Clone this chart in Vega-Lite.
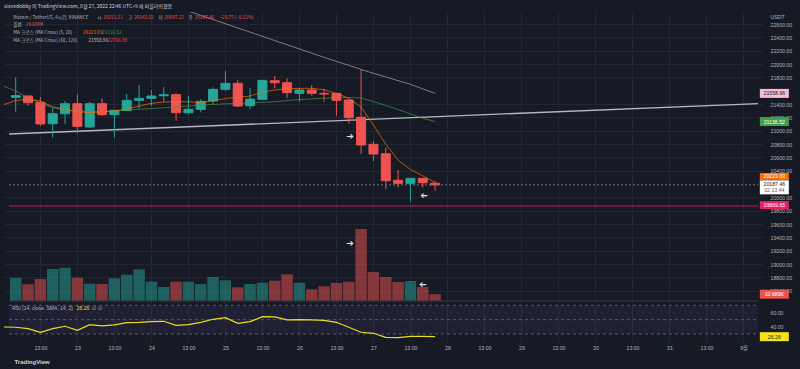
{
  "$schema": "https://vega.github.io/schema/vega-lite/v6.json",
  "width": 759,
  "height": 330,
  "autosize": {"type": "none"},
  "padding": {"left": 4, "top": 12, "right": 37, "bottom": 27},
  "background": "#161a25",
  "config": {"view": {"stroke": null}, "font": "Liberation Sans"},
  "title": {
    "text": "slavedobby 이 TradingView.com, 8월 27, 2022 22:46 UTC+9 에 퍼블리쉬했음",
    "anchor": "start",
    "frame": "group",
    "orient": "top",
    "offset": 3,
    "font": "Noto Sans CJK KR",
    "fontSize": 5,
    "fontWeight": "normal",
    "color": "#d1d4dc"
  },
  "datasets": {
    "k": [
      {"i": 0, "o": 21500, "h": 21800, "l": 21284, "c": 21525, "v": 38.25},
      {"i": 1, "o": 21520, "h": 21530, "l": 21374, "c": 21419, "v": 27.5},
      {"i": 2, "o": 21425, "h": 21504, "l": 21070, "c": 21100, "v": 36.6},
      {"i": 3, "o": 21104, "h": 21335, "l": 20894, "c": 21254, "v": 53.6},
      {"i": 4, "o": 21254, "h": 21445, "l": 21095, "c": 21404, "v": 55.8},
      {"i": 5, "o": 21404, "h": 21550, "l": 20960, "c": 21065, "v": 38.8},
      {"i": 6, "o": 21055, "h": 21430, "l": 21040, "c": 21404, "v": 28.6},
      {"i": 7, "o": 21404, "h": 21479, "l": 21220, "c": 21239, "v": 28.1},
      {"i": 8, "o": 21239, "h": 21305, "l": 20894, "c": 21305, "v": 37.7},
      {"i": 9, "o": 21305, "h": 21550, "l": 21290, "c": 21455, "v": 43.9},
      {"i": 10, "o": 21455, "h": 21685, "l": 21335, "c": 21485, "v": 53.0},
      {"i": 11, "o": 21485, "h": 21610, "l": 21370, "c": 21520, "v": 32.0},
      {"i": 12, "o": 21524, "h": 21655, "l": 21434, "c": 21539, "v": 23.0},
      {"i": 13, "o": 21539, "h": 21560, "l": 21149, "c": 21269, "v": 32.0},
      {"i": 14, "o": 21269, "h": 21520, "l": 21245, "c": 21320, "v": 32.0},
      {"i": 15, "o": 21320, "h": 21470, "l": 21275, "c": 21440, "v": 28.1},
      {"i": 16, "o": 21445, "h": 21650, "l": 21395, "c": 21620, "v": 40.0},
      {"i": 17, "o": 21620, "h": 21895, "l": 21599, "c": 21710, "v": 34.3},
      {"i": 18, "o": 21710, "h": 21760, "l": 21355, "c": 21370, "v": 22.4},
      {"i": 19, "o": 21374, "h": 21644, "l": 21320, "c": 21474, "v": 28.1},
      {"i": 20, "o": 21470, "h": 21760, "l": 21460, "c": 21755, "v": 30.3},
      {"i": 21, "o": 21749, "h": 21820, "l": 21635, "c": 21719, "v": 33.7},
      {"i": 22, "o": 21719, "h": 21785, "l": 21494, "c": 21569, "v": 44.5},
      {"i": 23, "o": 21560, "h": 21640, "l": 21434, "c": 21610, "v": 30.3},
      {"i": 24, "o": 21610, "h": 21685, "l": 21524, "c": 21560, "v": 19.0},
      {"i": 25, "o": 21560, "h": 21625, "l": 21434, "c": 21550, "v": 24.1},
      {"i": 26, "o": 21560, "h": 21565, "l": 21225, "c": 21455, "v": 29.8},
      {"i": 27, "o": 21460, "h": 21465, "l": 21110, "c": 21194, "v": 32.0},
      {"i": 28, "o": 21200, "h": 21910, "l": 20650, "c": 20785, "v": 121.6},
      {"i": 29, "o": 20795, "h": 20845, "l": 20545, "c": 20650, "v": 48.5},
      {"i": 30, "o": 20654, "h": 20750, "l": 20125, "c": 20249, "v": 40.0},
      {"i": 31, "o": 20255, "h": 20410, "l": 20150, "c": 20210, "v": 31.5},
      {"i": 32, "o": 20210, "h": 20290, "l": 19934, "c": 20285, "v": 33.2},
      {"i": 33, "o": 20285, "h": 20290, "l": 20150, "c": 20219, "v": 23.0},
      {"i": 34, "o": 20211.21, "h": 20242.02, "l": 20097.22, "c": 20187.46, "v": 10.689}
    ],
    "ind": [
      {"i": -1, "ma5": 21387.5, "ma20": 21669.5, "ma60": null, "rsi": 39.8},
      {"i": 0, "ma5": 21452, "ma20": 21594.5, "ma60": null, "rsi": 39.4},
      {"i": 1, "ma5": 21474.5, "ma20": 21489.5, "ma60": null, "rsi": 37.5},
      {"i": 2, "ma5": 21444.5, "ma20": 21414.5, "ma60": null, "rsi": 32.4},
      {"i": 3, "ma5": 21357.5, "ma20": 21347, "ma60": null, "rsi": 37.5},
      {"i": 4, "ma5": 21320, "ma20": 21309.5, "ma60": null, "rsi": 40.8},
      {"i": 5, "ma5": 21284, "ma20": 21294.5, "ma60": null, "rsi": 35.2},
      {"i": 6, "ma5": 21270.5, "ma20": 21284, "ma60": null, "rsi": 43.1},
      {"i": 7, "ma5": 21282.5, "ma20": 21287, "ma60": null, "rsi": 41.2},
      {"i": 8, "ma5": 21293, "ma20": 21297.5, "ma60": null, "rsi": 42.6},
      {"i": 9, "ma5": 21324.5, "ma20": 21305, "ma60": null, "rsi": 45.8},
      {"i": 10, "ma5": 21369.5, "ma20": 21321.5, "ma60": null, "rsi": 46.3},
      {"i": 11, "ma5": 21410, "ma20": 21332, "ma60": 22975, "rsi": 47.2},
      {"i": 12, "ma5": 21429.5, "ma20": 21344, "ma60": 22914, "rsi": 47.7},
      {"i": 13, "ma5": 21434, "ma20": 21354.5, "ma60": 22854, "rsi": 42.1},
      {"i": 14, "ma5": 21432.5, "ma20": 21369.5, "ma60": 22794, "rsi": 43.1},
      {"i": 15, "ma5": 21420.5, "ma20": 21381.5, "ma60": 22730, "rsi": 46.3},
      {"i": 16, "ma5": 21450.5, "ma20": 21393.5, "ma60": 22667, "rsi": 50.5},
      {"i": 17, "ma5": 21482, "ma20": 21402.5, "ma60": 22604, "rsi": 52.8},
      {"i": 18, "ma5": 21500, "ma20": 21408.5, "ma60": 22541, "rsi": 44.9},
      {"i": 19, "ma5": 21519.5, "ma20": 21416, "ma60": 22478, "rsi": 47.2},
      {"i": 20, "ma5": 21579.5, "ma20": 21425, "ma60": 22415, "rsi": 54.2},
      {"i": 21, "ma5": 21609.5, "ma20": 21434, "ma60": 22352, "rsi": 53.8},
      {"i": 22, "ma5": 21627.5, "ma20": 21452, "ma60": 22289, "rsi": 49.6},
      {"i": 23, "ma5": 21635, "ma20": 21467, "ma60": 22226, "rsi": 50.0},
      {"i": 24, "ma5": 21635, "ma20": 21476, "ma60": 22163, "rsi": 49.6},
      {"i": 25, "ma5": 21614, "ma20": 21486.5, "ma60": 22100, "rsi": 49.1},
      {"i": 26, "ma5": 21557, "ma20": 21494, "ma60": 22040, "rsi": 46.3},
      {"i": 27, "ma5": 21486.5, "ma20": 21497, "ma60": 21980, "rsi": 39.4},
      {"i": 28, "ma5": 21354.5, "ma20": 21489.5, "ma60": 21918, "rsi": 32.4},
      {"i": 29, "ma5": 21084.5, "ma20": 21437, "ma60": 21861, "rsi": 31.0},
      {"i": 30, "ma5": 20799.5, "ma20": 21377, "ma60": 21806, "rsi": 25.4},
      {"i": 31, "ma5": 20559.5, "ma20": 21317, "ma60": 21750, "rsi": 24.9},
      {"i": 32, "ma5": 20417, "ma20": 21249.5, "ma60": 21695, "rsi": 26.8},
      {"i": 33, "ma5": 20322.5, "ma20": 21186.5, "ma60": 21627, "rsi": 26.8},
      {"i": 34, "ma5": 20223.03, "ma20": 21136.52, "ma60": 21558.96, "rsi": 26.26}
    ]
  },
  "layer": [
    {
      "data": {"name": "ind"},
      "layer": [
        {
          "data": {"values": [{}]},
          "mark": {"type": "rect", "color": "#7e57c2", "opacity": 0.1},
          "encoding": {
            "x": {"datum": -0.544, "type": "quantitative"},
            "x2": {"datum": 60.176},
            "y": {"datum": 30, "type": "quantitative"},
            "y2": {"datum": 70}
          }
        },
        {
          "data": {"values": [{}]},
          "mark": {"type": "rule", "color": "#2a2e39", "strokeWidth": 1.5},
          "encoding": {
            "x": {"datum": -0.544, "type": "quantitative"},
            "x2": {"datum": 60.176},
            "y": {"datum": 76, "type": "quantitative"}
          }
        },
        {
          "data": {"values": [{"lv": 70}, {"lv": 50}, {"lv": 30}]},
          "mark": {"type": "rule", "color": "#787b86", "strokeWidth": 0.8, "strokeDash": [3, 3], "opacity": 0.8},
          "encoding": {
            "x": {"datum": -0.544, "type": "quantitative"},
            "x2": {"datum": 60.176},
            "y": {"field": "lv", "type": "quantitative"}
          }
        },
        {
          "mark": {"type": "line", "color": "#f0dc1e", "strokeWidth": 1.2, "clip": true},
          "encoding": {
            "x": {"field": "i", "type": "quantitative"},
            "y": {
              "field": "rsi",
              "type": "quantitative",
              "scale": {"domain": [18.85, 478.8], "nice": false, "zero": false},
              "axis": {
                "orient": "right",
                "values": [40, 60],
                "tickCount": 50,
                "format": ".2f",
                "labelColor": "#b2b5be",
                "labelFontSize": 5.2,
                "labelAlign": "left",
                "labelPadding": 7,
                "labelOverlap": false,
                "ticks": false,
                "tickSize": 0,
                "domain": false,
                "grid": false,
                "title": null
              }
            }
          }
        },
        {
          "data": {"values": [{}]},
          "mark": {"type": "tick", "orient": "horizontal", "size": 29, "thickness": 9, "color": "#f5e11b", "opacity": 1},
          "encoding": {
            "x": {"datum": 61.5, "type": "quantitative"},
            "y": {"datum": 26.26, "type": "quantitative"}
          }
        },
        {
          "data": {"values": [{}]},
          "mark": {"type": "text", "text": "26.26", "fontSize": 5.2, "color": "#131722", "align": "center", "baseline": "middle"},
          "encoding": {
            "x": {"datum": 61.5, "type": "quantitative"},
            "y": {"datum": 26.26, "type": "quantitative"}
          }
        },
        {
          "data": {"values": [{}]},
          "mark": {"type": "text", "text": "RSI (14, close, SMA, 14, 2)", "fontSize": 5, "color": "#b2b5be", "align": "left", "baseline": "middle"},
          "encoding": {
            "x": {"datum": -0.28, "type": "quantitative"},
            "y": {"datum": 65.8, "type": "quantitative"}
          }
        },
        {
          "data": {"values": [{}]},
          "mark": {"type": "text", "text": "26.26", "fontSize": 5, "color": "#f0dc1e", "align": "left", "baseline": "middle"},
          "encoding": {
            "x": {"datum": 4.95, "type": "quantitative"},
            "y": {"datum": 65.8, "type": "quantitative"}
          }
        },
        {
          "data": {"values": [{}]},
          "mark": {"type": "text", "text": "∅  ∅", "fontSize": 5, "color": "#b2b5be", "align": "left", "baseline": "middle"},
          "encoding": {
            "x": {"datum": 6.2, "type": "quantitative"},
            "y": {"datum": 65.8, "type": "quantitative"}
          }
        }
      ]
    },
    {
      "data": {"name": "k"},
      "layer": [
        {
          "mark": {"type": "bar", "size": 11.5, "opacity": 0.5},
          "encoding": {
            "x": {
              "field": "i",
              "type": "quantitative",
              "scale": {"domain": [-0.544, 60.176], "nice": false, "zero": false},
              "axis": {
                "values": [2, 5, 8, 11, 14, 17, 20, 23, 26, 29, 32, 35, 38, 41, 44, 47, 50, 53, 56, 59],
                "tickCount": 100,
                "labelExpr": "(datum.value - 2) % 6 == 0 ? '13:00' : ((datum.value + 1) / 6 + 22 == 32 ? '9월' : toString((datum.value + 1) / 6 + 22))",
                "labelColor": "#b2b5be",
                "labelFontSize": 5.2,
                "labelFont": "Liberation Sans, Noto Sans CJK KR",
                "labelPadding": 3,
                "labelOverlap": false,
                "labelFlush": false,
                "ticks": false,
                "tickSize": 0,
                "domain": false,
                "grid": true,
                "gridColor": "#232735",
                "gridWidth": 1,
                "title": "TradingView",
                "titleX": 10,
                "titleY": 19,
                "titleAlign": "left",
                "titleBaseline": "middle",
                "titleFontSize": 6,
                "titleFontWeight": "bold",
                "titleColor": "#d1d4dc"
              }
            },
            "y": {
              "field": "v",
              "type": "quantitative",
              "scale": {"domain": [-70.55, 490.45], "nice": false, "zero": false},
              "axis": null
            },
            "y2": {"datum": 0},
            "color": {"condition": {"test": "datum.c < datum.o", "value": "#ef5350"}, "value": "#26a69a"}
          }
        },
        {
          "data": {"values": [{}]},
          "mark": {"type": "tick", "orient": "horizontal", "size": 29, "thickness": 9, "color": "#ef5350", "opacity": 1},
          "encoding": {
            "x": {"datum": 61.5, "type": "quantitative"},
            "y": {"datum": 10.689, "type": "quantitative"}
          }
        },
        {
          "data": {"values": [{}]},
          "mark": {"type": "text", "text": "10.689K", "fontSize": 5.2, "color": "#ffffff", "align": "center", "baseline": "middle"},
          "encoding": {
            "x": {"datum": 61.5, "type": "quantitative"},
            "y": {"datum": 10.689, "type": "quantitative"}
          }
        }
      ]
    },
    {
      "data": {"name": "k"},
      "layer": [
        {
          "data": {"values": [{}]},
          "mark": {"type": "rule", "color": "#e91e63", "opacity": 0.4, "strokeWidth": 2},
          "encoding": {
            "x": {"datum": -0.544, "type": "quantitative"},
            "x2": {"datum": 60.176},
            "y": {"datum": 19869.65, "type": "quantitative"}
          }
        },
        {
          "data": {"values": [{}]},
          "mark": {"type": "rule", "color": "#d1d4dc", "opacity": 0.85, "strokeWidth": 1.3},
          "encoding": {
            "x": {"datum": -0.544, "type": "quantitative"},
            "x2": {"datum": 60.176},
            "y": {"datum": 20950, "type": "quantitative"},
            "y2": {"datum": 21406}
          }
        },
        {
          "data": {"values": [{}]},
          "mark": {"type": "rule", "color": "#787b86", "strokeWidth": 1, "strokeDash": [2, 2]},
          "encoding": {
            "x": {"datum": -0.544, "type": "quantitative"},
            "x2": {"datum": 60.176},
            "y": {"datum": 20187.46, "type": "quantitative"}
          }
        },
        {
          "mark": {"type": "rule", "strokeWidth": 1},
          "encoding": {
            "x": {"field": "i", "type": "quantitative"},
            "y": {
              "field": "l",
              "type": "quantitative",
              "scale": {"domain": [17830, 22780], "nice": false, "zero": false},
              "axis": {
                "orient": "right",
                "values": [18600, 18800, 19000, 19200, 19400, 19600, 19800, 20000, 20400, 20600, 20800, 21000, 21200, 21400, 21800, 22000, 22200, 22400, 22600],
                "tickCount": 100,
                "format": ".2f",
                "labelColor": "#b2b5be",
                "labelFontSize": 5.2,
                "labelAlign": "left",
                "labelPadding": 7,
                "labelOverlap": false,
                "ticks": false,
                "tickSize": 0,
                "domain": false,
                "grid": true,
                "gridColor": "#232735",
                "gridWidth": 1,
                "title": "USDT",
                "titleAngle": 0,
                "titleAlign": "left",
                "titleBaseline": "middle",
                "titleX": 7,
                "titleY": 4.7,
                "titleFontSize": 5.2,
                "titleFontWeight": "normal",
                "titleColor": "#b2b5be"
              }
            },
            "y2": {"field": "h"},
            "color": {"condition": {"test": "datum.c < datum.o", "value": "#ef5350"}, "value": "#26a69a"}
          }
        },
        {
          "mark": {"type": "bar", "size": 9, "strokeWidth": 1},
          "encoding": {
            "x": {"field": "i", "type": "quantitative"},
            "y": {"field": "o", "type": "quantitative"},
            "y2": {"field": "c"},
            "fill": {"condition": {"test": "datum.c < datum.o", "value": "#ef5350"}, "value": "#26a69a"},
            "stroke": {"condition": {"test": "datum.c < datum.o", "value": "#ef5350"}, "value": "#26a69a"}
          }
        },
        {
          "data": {"name": "ind"},
          "transform": [{"filter": "isValid(datum.ma60)"}],
          "mark": {"type": "line", "color": "#f8bbd0", "opacity": 0.55, "strokeWidth": 1, "clip": true},
          "encoding": {
            "x": {"field": "i", "type": "quantitative"},
            "y": {"field": "ma60", "type": "quantitative"}
          }
        },
        {
          "data": {"name": "ind"},
          "mark": {"type": "line", "color": "#43a047", "opacity": 0.65, "strokeWidth": 1, "clip": true},
          "encoding": {
            "x": {"field": "i", "type": "quantitative"},
            "y": {"field": "ma20", "type": "quantitative"}
          }
        },
        {
          "data": {"name": "ind"},
          "mark": {"type": "line", "color": "#ff6d00", "opacity": 0.7, "strokeWidth": 1, "clip": true},
          "encoding": {
            "x": {"field": "i", "type": "quantitative"},
            "y": {"field": "ma5", "type": "quantitative"}
          }
        },
        {
          "data": {"values": [{}]},
          "mark": {"type": "text", "text": "➔", "font": "DejaVu Sans", "fontSize": 9, "color": "#e0e3eb", "align": "center", "baseline": "middle"},
          "encoding": {
            "x": {"datum": 27.1, "type": "quantitative"},
            "y": {"datum": 20920, "type": "quantitative"}
          }
        },
        {
          "data": {"values": [{}]},
          "mark": {"type": "text", "text": "➔", "font": "DejaVu Sans", "fontSize": 9, "color": "#e0e3eb", "align": "center", "baseline": "middle", "angle": 180},
          "encoding": {
            "x": {"datum": 33.1, "type": "quantitative"},
            "y": {"datum": 20024, "type": "quantitative"}
          }
        },
        {
          "data": {"values": [{}]},
          "mark": {"type": "text", "text": "➔", "font": "DejaVu Sans", "fontSize": 9, "color": "#e0e3eb", "align": "center", "baseline": "middle"},
          "encoding": {
            "x": {"datum": 27.1, "type": "quantitative"},
            "y": {"datum": 19311, "type": "quantitative"}
          }
        },
        {
          "data": {"values": [{}]},
          "mark": {"type": "text", "text": "➔", "font": "DejaVu Sans", "fontSize": 9, "color": "#e0e3eb", "align": "center", "baseline": "middle", "angle": 180},
          "encoding": {
            "x": {"datum": 33.0, "type": "quantitative"},
            "y": {"datum": 18684, "type": "quantitative"}
          }
        },
        {
          "data": {"values": [{}]},
          "mark": {"type": "text", "text": "Bitcoin / TetherUS, 4시간, BINANCE", "font": "Noto Sans CJK KR", "fontSize": 4.7, "color": "#b2b5be", "align": "left", "baseline": "middle"},
          "encoding": {"x": {"datum": -0.2, "type": "quantitative"}, "y": {"datum": 22685, "type": "quantitative"}}
        },
        {
          "data": {"values": [{}]},
          "mark": {"type": "text", "text": "시", "font": "Noto Sans CJK KR", "fontSize": 4.7, "color": "#b2b5be", "align": "left", "baseline": "middle"},
          "encoding": {"x": {"datum": 6.6, "type": "quantitative"}, "y": {"datum": 22685, "type": "quantitative"}}
        },
        {
          "data": {"values": [{}]},
          "mark": {"type": "text", "text": "20211.21", "font": "Noto Sans CJK KR", "fontSize": 4.7, "color": "#ef5350", "align": "left", "baseline": "middle"},
          "encoding": {"x": {"datum": 7.1, "type": "quantitative"}, "y": {"datum": 22685, "type": "quantitative"}}
        },
        {
          "data": {"values": [{}]},
          "mark": {"type": "text", "text": "고", "font": "Noto Sans CJK KR", "fontSize": 4.7, "color": "#b2b5be", "align": "left", "baseline": "middle"},
          "encoding": {"x": {"datum": 9.1, "type": "quantitative"}, "y": {"datum": 22685, "type": "quantitative"}}
        },
        {
          "data": {"values": [{}]},
          "mark": {"type": "text", "text": "20242.02", "font": "Noto Sans CJK KR", "fontSize": 4.7, "color": "#ef5350", "align": "left", "baseline": "middle"},
          "encoding": {"x": {"datum": 9.6, "type": "quantitative"}, "y": {"datum": 22685, "type": "quantitative"}}
        },
        {
          "data": {"values": [{}]},
          "mark": {"type": "text", "text": "저", "font": "Noto Sans CJK KR", "fontSize": 4.7, "color": "#b2b5be", "align": "left", "baseline": "middle"},
          "encoding": {"x": {"datum": 11.55, "type": "quantitative"}, "y": {"datum": 22685, "type": "quantitative"}}
        },
        {
          "data": {"values": [{}]},
          "mark": {"type": "text", "text": "20097.22", "font": "Noto Sans CJK KR", "fontSize": 4.7, "color": "#ef5350", "align": "left", "baseline": "middle"},
          "encoding": {"x": {"datum": 12.05, "type": "quantitative"}, "y": {"datum": 22685, "type": "quantitative"}}
        },
        {
          "data": {"values": [{}]},
          "mark": {"type": "text", "text": "종", "font": "Noto Sans CJK KR", "fontSize": 4.7, "color": "#b2b5be", "align": "left", "baseline": "middle"},
          "encoding": {"x": {"datum": 14.0, "type": "quantitative"}, "y": {"datum": 22685, "type": "quantitative"}}
        },
        {
          "data": {"values": [{}]},
          "mark": {"type": "text", "text": "20187.46", "font": "Noto Sans CJK KR", "fontSize": 4.7, "color": "#ef5350", "align": "left", "baseline": "middle"},
          "encoding": {"x": {"datum": 14.5, "type": "quantitative"}, "y": {"datum": 22685, "type": "quantitative"}}
        },
        {
          "data": {"values": [{}]},
          "mark": {"type": "text", "text": "−23.75 (−0.12%)", "font": "Noto Sans CJK KR", "fontSize": 4.7, "color": "#ef5350", "align": "left", "baseline": "middle"},
          "encoding": {"x": {"datum": 16.5, "type": "quantitative"}, "y": {"datum": 22685, "type": "quantitative"}}
        },
        {
          "data": {"values": [{}]},
          "mark": {"type": "text", "text": "볼륨", "font": "Noto Sans CJK KR", "fontSize": 4.7, "color": "#b2b5be", "align": "left", "baseline": "middle"},
          "encoding": {"x": {"datum": -0.2, "type": "quantitative"}, "y": {"datum": 22584, "type": "quantitative"}}
        },
        {
          "data": {"values": [{}]},
          "mark": {"type": "text", "text": "10.689K", "font": "Noto Sans CJK KR", "fontSize": 4.7, "color": "#ef5350", "align": "left", "baseline": "middle"},
          "encoding": {"x": {"datum": 0.82, "type": "quantitative"}, "y": {"datum": 22584, "type": "quantitative"}}
        },
        {
          "data": {"values": [{}]},
          "mark": {"type": "text", "text": "MA 크로스 (MA Cross) (5, 20)", "font": "Noto Sans CJK KR", "fontSize": 4.7, "color": "#b2b5be", "align": "left", "baseline": "middle"},
          "encoding": {"x": {"datum": -0.2, "type": "quantitative"}, "y": {"datum": 22464, "type": "quantitative"}}
        },
        {
          "data": {"values": [{}]},
          "mark": {"type": "text", "text": "20223.03", "font": "Noto Sans CJK KR", "fontSize": 4.7, "color": "#ff6d00", "align": "left", "baseline": "middle"},
          "encoding": {"x": {"datum": 5.45, "type": "quantitative"}, "y": {"datum": 22464, "type": "quantitative"}}
        },
        {
          "data": {"values": [{}]},
          "mark": {"type": "text", "text": "21136.52", "font": "Noto Sans CJK KR", "fontSize": 4.7, "color": "#43a047", "align": "left", "baseline": "middle"},
          "encoding": {"x": {"datum": 7.0, "type": "quantitative"}, "y": {"datum": 22464, "type": "quantitative"}}
        },
        {
          "data": {"values": [{}]},
          "mark": {"type": "text", "text": "MA 크로스 (MA Cross) (60, 120)", "font": "Noto Sans CJK KR", "fontSize": 4.7, "color": "#b2b5be", "align": "left", "baseline": "middle"},
          "encoding": {"x": {"datum": -0.2, "type": "quantitative"}, "y": {"datum": 22349, "type": "quantitative"}}
        },
        {
          "data": {"values": [{}]},
          "mark": {"type": "text", "text": "21558.96", "font": "Noto Sans CJK KR", "fontSize": 4.7, "color": "#d8c3cc", "align": "left", "baseline": "middle"},
          "encoding": {"x": {"datum": 5.9, "type": "quantitative"}, "y": {"datum": 22349, "type": "quantitative"}}
        },
        {
          "data": {"values": [{}]},
          "mark": {"type": "text", "text": "22766.89", "font": "Noto Sans CJK KR", "fontSize": 4.7, "color": "#ef5350", "align": "left", "baseline": "middle"},
          "encoding": {"x": {"datum": 7.45, "type": "quantitative"}, "y": {"datum": 22349, "type": "quantitative"}}
        },
        {
          "data": {"values": [{}]},
          "mark": {"type": "tick", "orient": "horizontal", "size": 29, "thickness": 9, "color": "#f8bbd0", "opacity": 1},
          "encoding": {"x": {"datum": 61.5, "type": "quantitative"}, "y": {"datum": 21558.96, "type": "quantitative"}}
        },
        {
          "data": {"values": [{}]},
          "mark": {"type": "text", "text": "21558.96", "fontSize": 5.2, "color": "#131722", "align": "center", "baseline": "middle"},
          "encoding": {"x": {"datum": 61.5, "type": "quantitative"}, "y": {"datum": 21558.96, "type": "quantitative"}}
        },
        {
          "data": {"values": [{}]},
          "mark": {"type": "tick", "orient": "horizontal", "size": 29, "thickness": 9, "color": "#43a047", "opacity": 1},
          "encoding": {"x": {"datum": 61.5, "type": "quantitative"}, "y": {"datum": 21136.52, "type": "quantitative"}}
        },
        {
          "data": {"values": [{}]},
          "mark": {"type": "text", "text": "21136.52", "fontSize": 5.2, "color": "#ffffff", "align": "center", "baseline": "middle"},
          "encoding": {"x": {"datum": 61.5, "type": "quantitative"}, "y": {"datum": 21136.52, "type": "quantitative"}}
        },
        {
          "data": {"values": [{}]},
          "mark": {"type": "tick", "orient": "horizontal", "size": 29, "thickness": 7, "color": "#ff6d00", "opacity": 1, "yOffset": -6},
          "encoding": {"x": {"datum": 61.5, "type": "quantitative"}, "y": {"datum": 20223.03, "type": "quantitative"}}
        },
        {
          "data": {"values": [{}]},
          "mark": {"type": "text", "text": "20223.03", "fontSize": 5.2, "color": "#ffffff", "align": "center", "baseline": "middle", "yOffset": -6},
          "encoding": {"x": {"datum": 61.5, "type": "quantitative"}, "y": {"datum": 20223.03, "type": "quantitative"}}
        },
        {
          "data": {"values": [{}]},
          "mark": {"type": "tick", "orient": "horizontal", "size": 29, "thickness": 14, "color": "#ffffff", "opacity": 1, "yOffset": 2.5},
          "encoding": {"x": {"datum": 61.5, "type": "quantitative"}, "y": {"datum": 20187.46, "type": "quantitative"}}
        },
        {
          "data": {"values": [{}]},
          "mark": {"type": "text", "text": "20187.46", "fontSize": 5.2, "color": "#131722", "align": "center", "baseline": "middle", "yOffset": -1},
          "encoding": {"x": {"datum": 61.5, "type": "quantitative"}, "y": {"datum": 20187.46, "type": "quantitative"}}
        },
        {
          "data": {"values": [{}]},
          "mark": {"type": "text", "text": "02:13:44", "fontSize": 5.2, "color": "#5d606b", "align": "center", "baseline": "middle", "yOffset": 5.6},
          "encoding": {"x": {"datum": 61.5, "type": "quantitative"}, "y": {"datum": 20187.46, "type": "quantitative"}}
        },
        {
          "data": {"values": [{}]},
          "mark": {"type": "tick", "orient": "horizontal", "size": 29, "thickness": 8, "color": "#e91e63", "opacity": 1, "yOffset": -1},
          "encoding": {"x": {"datum": 61.5, "type": "quantitative"}, "y": {"datum": 19869.65, "type": "quantitative"}}
        },
        {
          "data": {"values": [{}]},
          "mark": {"type": "text", "text": "19869.65", "fontSize": 5.2, "color": "#ffffff", "align": "center", "baseline": "middle", "yOffset": -1},
          "encoding": {"x": {"datum": 61.5, "type": "quantitative"}, "y": {"datum": 19869.65, "type": "quantitative"}}
        }
      ]
    }
  ],
  "resolve": {"scale": {"y": "independent"}}
}
